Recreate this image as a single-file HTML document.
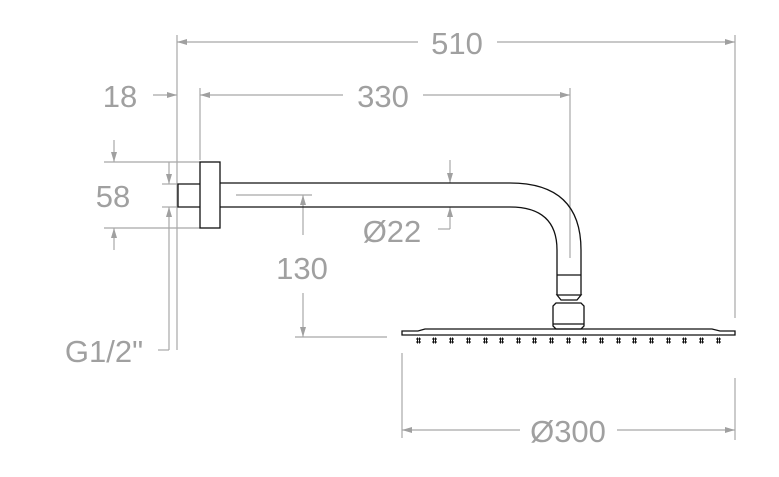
<!DOCTYPE html>
<html><head><meta charset="utf-8"><style>
html,body{margin:0;padding:0;background:#fff;}
svg{display:block;}
text{font-family:"Liberation Sans",Arial,sans-serif;font-size:31px;fill:#a0a0a0;}
</style></head><body>
<svg width="779" height="477" viewBox="0 0 779 477" xmlns="http://www.w3.org/2000/svg">
<defs>
<marker id="a" viewBox="0 0 10 6" refX="10" refY="3" markerWidth="10" markerHeight="6" orient="auto-start-reverse" markerUnits="userSpaceOnUse"><path d="M0,0 L10,3 L0,6 Z" fill="#a0a0a0"/></marker>
</defs>
<g stroke="#a8a8a8" stroke-width="1.2" fill="none">
<line x1="177" y1="35" x2="177" y2="350"/>
<line x1="200" y1="88" x2="200" y2="160"/>
<line x1="570" y1="88" x2="570" y2="258"/>
<line x1="735" y1="35" x2="735" y2="318"/>
<line x1="735" y1="378" x2="735" y2="440"/>
<line x1="402" y1="353" x2="402" y2="438"/>
<line x1="177" y1="42" x2="418" y2="42" marker-start="url(#a)"/>
<line x1="497" y1="42" x2="735" y2="42" marker-end="url(#a)"/>
<line x1="153" y1="95" x2="177" y2="95" marker-end="url(#a)"/>
<line x1="200" y1="95" x2="343" y2="95" marker-start="url(#a)"/>
<line x1="423" y1="95" x2="570" y2="95" marker-end="url(#a)"/>
<line x1="104" y1="162" x2="200" y2="162"/>
<line x1="104" y1="228" x2="200" y2="228"/>
<line x1="114" y1="140" x2="114" y2="162" marker-end="url(#a)"/>
<line x1="114" y1="250" x2="114" y2="228" marker-end="url(#a)"/>
<line x1="169" y1="162" x2="169" y2="184" marker-end="url(#a)"/>
<line x1="169" y1="350" x2="169" y2="207" marker-end="url(#a)"/>
<line x1="158" y1="350" x2="169" y2="350"/>
<line x1="162" y1="184" x2="177" y2="184"/>
<line x1="162" y1="207" x2="177" y2="207"/>
<line x1="236" y1="195" x2="312" y2="195"/>
<line x1="303" y1="235" x2="303" y2="195" marker-end="url(#a)"/>
<line x1="303" y1="293" x2="303" y2="337" marker-end="url(#a)"/>
<line x1="295" y1="337" x2="387" y2="337"/>
<line x1="450" y1="160" x2="450" y2="183" marker-end="url(#a)"/>
<line x1="450" y1="229" x2="450" y2="207" marker-end="url(#a)"/>
<line x1="438" y1="229" x2="450" y2="229"/>
<line x1="402" y1="430" x2="520" y2="430" marker-start="url(#a)"/>
<line x1="617" y1="430" x2="735" y2="430" marker-end="url(#a)"/>
</g>
<g stroke="#111" stroke-width="1.3" fill="none">
<rect x="200" y="162" width="20" height="66"/>
<path d="M200,184 H178 V207 H200"/>
<path d="M220,183 H510 Q581,183 581,250 V295"/>
<path d="M220,207 H510 Q557,207 557,250 V295"/>
<line x1="557" y1="275" x2="581" y2="275"/>
<path d="M557,295 L561,300 H577 L581,295 Z"/>
<path d="M556,303 L553,306 V326 L556,329 H581 L584,326 V306 L581,303 Z"/>
<line x1="553" y1="324" x2="584" y2="324"/>
<path d="M402,335 V331 H418 L425,329 H712 L720,331 H735 V335 Z"/>
</g>
<g stroke="#111" stroke-width="1" fill="none">
<path d="M416,339h5M416,342h5M417.5,337.5v6M419.5,337.5v6 M432,339h5M432,342h5M433.5,337.5v6M435.5,337.5v6 M449,339h5M449,342h5M450.5,337.5v6M452.5,337.5v6 M466,339h5M466,342h5M467.5,337.5v6M469.5,337.5v6 M483,339h5M483,342h5M484.5,337.5v6M486.5,337.5v6 M499,339h5M499,342h5M500.5,337.5v6M502.5,337.5v6 M516,339h5M516,342h5M517.5,337.5v6M519.5,337.5v6 M532,339h5M532,342h5M533.5,337.5v6M535.5,337.5v6 M549,339h5M549,342h5M550.5,337.5v6M552.5,337.5v6 M566,339h5M566,342h5M567.5,337.5v6M569.5,337.5v6 M582,339h5M582,342h5M583.5,337.5v6M585.5,337.5v6 M599,339h5M599,342h5M600.5,337.5v6M602.5,337.5v6 M616,339h5M616,342h5M617.5,337.5v6M619.5,337.5v6 M632,339h5M632,342h5M633.5,337.5v6M635.5,337.5v6 M649,339h5M649,342h5M650.5,337.5v6M652.5,337.5v6 M666,339h5M666,342h5M667.5,337.5v6M669.5,337.5v6 M682,339h5M682,342h5M683.5,337.5v6M685.5,337.5v6 M699,339h5M699,342h5M700.5,337.5v6M702.5,337.5v6 M716,339h5M716,342h5M717.5,337.5v6M719.5,337.5v6"/>
</g>
<text x="457" y="54" text-anchor="middle">510</text>
<text x="383" y="107" text-anchor="middle">330</text>
<text x="120" y="107" text-anchor="middle">18</text>
<text x="113" y="207" text-anchor="middle">58</text>
<text x="392" y="242" text-anchor="middle">Ø22</text>
<text x="302" y="279" text-anchor="middle">130</text>
<text x="104" y="362" text-anchor="middle">G1/2"</text>
<text x="568" y="442" text-anchor="middle">Ø300</text>
</svg>
</body></html>
